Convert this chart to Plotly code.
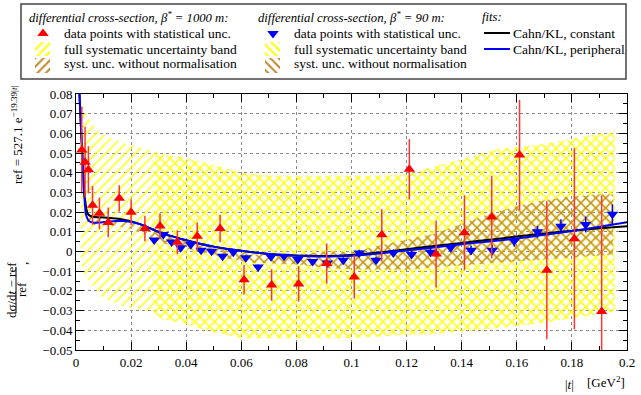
import plotly.graph_objects as go

# ---------------- data ----------------
# beta* = 1000 m data points (red) with statistical uncertainties
t_1000 = [0.0021, 0.0033, 0.0045, 0.0060, 0.0085, 0.0117, 0.0157, 0.0200, 0.0250, 0.0305,
          0.0368, 0.0440, 0.0523, 0.0610, 0.0710, 0.0808, 0.0910, 0.1010, 0.1110, 0.1210,
          0.1307, 0.1410, 0.1509, 0.1610, 0.1709, 0.1809, 0.1908]
y_1000 = [0.0515, 0.0454, 0.0415, 0.0235, 0.0194, 0.0148, 0.0270, 0.0200, 0.0117, 0.0130,
          0.0047, 0.0078, 0.0117, -0.0143, -0.0170, -0.0165, -0.0061, -0.0129, 0.0085, 0.0418,
          -0.0012, 0.0095, 0.0175, 0.0490, -0.0095, 0.0065, -0.0305]
e_1000 = [0.022, 0.018, 0.012, 0.0098, 0.008, 0.0075, 0.0067, 0.0065, 0.0065, 0.0065,
          0.006, 0.007, 0.007, 0.0075, 0.008, 0.009, 0.0102, 0.011, 0.013, 0.0153,
          0.017, 0.019, 0.021, 0.028, 0.035, 0.046, 0.059]

# beta* = 90 m data points (blue)
t_90 = [0.0284, 0.0317, 0.0347, 0.0380, 0.0417, 0.0454, 0.0492, 0.0532, 0.0571, 0.0616,
        0.0661, 0.0708, 0.0755, 0.0805, 0.0859, 0.0912, 0.0970, 0.1028, 0.1089, 0.1152,
        0.1218, 0.1287, 0.1360, 0.1434, 0.1511, 0.1591, 0.1675, 0.1760, 0.1850, 0.1947]
y_90 = [0.0058, 0.0087, 0.0048, 0.0019, 0.0036, 0.0007, 0.0002, -0.0024, -0.0003, -0.0032,
        -0.0078, -0.0027, -0.0024, -0.0041, -0.0051, -0.0058, -0.0044, -0.0007, -0.0044, -0.0007,
        -0.0015, -0.0003, 0.0019, 0.0007, 0.0007, 0.0053, 0.0100, 0.0129, 0.0137, 0.0189]
e_90 = [0.001, 0.001, 0.001, 0.001, 0.001, 0.001, 0.001, 0.001, 0.001, 0.0012,
        0.0012, 0.0012, 0.0012, 0.0013, 0.0013, 0.0014, 0.0015, 0.0016, 0.0017, 0.0018,
        0.002, 0.002, 0.0022, 0.0024, 0.0026, 0.0028, 0.003, 0.0035, 0.004, 0.005]

# full systematic uncertainty bands
band_full_1000_t = [0.0018, 0.0033, 0.0065, 0.009, 0.0138, 0.0174, 0.0234, 0.0283, 0.032, 0.039,
                    0.0486, 0.06, 0.07, 0.08, 0.09, 0.10, 0.108, 0.12, 0.1285, 0.1405,
                    0.1527, 0.165, 0.1769, 0.189, 0.1956]
band_full_1000_hi = [0.0775, 0.071, 0.064, 0.060, 0.057, 0.055, 0.053, 0.0512, 0.0495, 0.0478,
                     0.0445, 0.040, 0.0385, 0.0385, 0.0385, 0.0385, 0.0385, 0.039, 0.0427, 0.047,
                     0.052, 0.0537, 0.0563, 0.0597, 0.0605]
band_full_1000_lo = [-0.006, -0.0126, -0.018, -0.0228, -0.026, -0.0279, -0.0295, -0.0304, -0.0347, -0.0364,
                     -0.0406, -0.044, -0.044, -0.044, -0.044, -0.044, -0.0432, -0.0423, -0.042, -0.0405,
                     -0.039, -0.037, -0.0347, -0.032, -0.0304]

band_full_90_t = [0.028, 0.032, 0.039, 0.0486, 0.06, 0.07, 0.08, 0.09, 0.10, 0.108,
                  0.12, 0.1285, 0.1405, 0.1527, 0.165, 0.1769, 0.189, 0.1956]
band_full_90_hi = [0.0495, 0.049, 0.0478, 0.0445, 0.040, 0.0385, 0.0385, 0.0385, 0.0385, 0.0385,
                   0.039, 0.0427, 0.047, 0.052, 0.0537, 0.0563, 0.0597, 0.0605]
band_full_90_lo = [-0.032, -0.0347, -0.0364, -0.0406, -0.044, -0.044, -0.044, -0.044, -0.044, -0.0432,
                   -0.0423, -0.042, -0.0405, -0.039, -0.037, -0.0347, -0.032, -0.0304]

# systematic uncertainty without normalisation
band_nn_1000_t = [0.0025, 0.003, 0.0035, 0.0045, 0.0065, 0.009, 0.0114, 0.0145, 0.0174, 0.0205,
                  0.0235, 0.028, 0.035, 0.045, 0.055, 0.063, 0.07, 0.081, 0.091, 0.10,
                  0.11, 0.12, 0.13, 0.14, 0.15, 0.16, 0.17, 0.18, 0.19, 0.195]
band_nn_1000_hi = [0.045, 0.035, 0.026, 0.019, 0.0175, 0.0174, 0.0172, 0.0168, 0.0162, 0.0152,
                   0.0138, 0.010, 0.0075, 0.0045, 0.0015, -0.0015, -0.0015, -0.0015, 0.0, -0.0005,
                   0.003, 0.006, 0.009, 0.014, 0.019, 0.023, 0.026, 0.028, 0.029, 0.029]
band_nn_1000_lo = [0.035, 0.024, 0.017, 0.014, 0.0135, 0.0134, 0.0132, 0.0128, 0.0122, 0.0112,
                   0.0098, 0.006, 0.003, 0.0, -0.0035, -0.0056, -0.006, -0.0066, -0.0083, -0.009,
                   -0.0092, -0.0092, -0.008, -0.007, -0.0057, -0.005, -0.004, -0.003, -0.002, -0.0015]

band_nn_90_t = [0.028, 0.035, 0.045, 0.055, 0.063, 0.07, 0.081, 0.091, 0.10, 0.11,
                0.12, 0.13, 0.14, 0.15, 0.16, 0.17, 0.18, 0.19, 0.195]
band_nn_90_hi = [0.010, 0.0075, 0.0045, 0.0015, -0.0015, -0.0015, -0.0015, 0.0, -0.0005, 0.003,
                 0.006, 0.009, 0.014, 0.019, 0.023, 0.026, 0.028, 0.029, 0.029]
band_nn_90_lo = [0.006, 0.003, 0.0, -0.0035, -0.0056, -0.006, -0.0066, -0.0083, -0.009, -0.0092,
                 -0.0092, -0.008, -0.007, -0.0057, -0.005, -0.004, -0.003, -0.002, -0.0015]

# fits
fit_t = [0.0011, 0.0017, 0.0023, 0.0029, 0.0035, 0.0041, 0.0047, 0.0065, 0.009, 0.0114,
         0.0145, 0.0174, 0.0205, 0.0235, 0.027, 0.0307, 0.035, 0.039, 0.045, 0.05,
         0.055, 0.06, 0.065, 0.07, 0.075, 0.08, 0.085, 0.09, 0.095, 0.10,
         0.11, 0.12, 0.13, 0.14, 0.15, 0.16, 0.17, 0.18, 0.19, 0.20]
fit_const = [0.085, 0.066, 0.049, 0.032, 0.024, 0.0197, 0.0185, 0.0175, 0.0174, 0.0172,
             0.0168, 0.0162, 0.0152, 0.0138, 0.0118, 0.0095, 0.0077, 0.0061, 0.0040, 0.0025,
             0.0013, 0.0004, -0.0005, -0.0012, -0.0017, -0.0020, -0.0022, -0.0023, -0.0021, -0.0018,
             -0.0005, 0.0012, 0.0028, 0.0044, 0.0060, 0.0076, 0.0092, 0.0106, 0.0118, 0.0129]
fit_periph = [0.085, 0.066, 0.049, 0.031, 0.0197, 0.0168, 0.0155, 0.0146, 0.0148, 0.0151,
              0.0155, 0.0155, 0.0149, 0.0138, 0.0118, 0.0095, 0.0077, 0.0061, 0.0040, 0.0025,
              0.0013, 0.0004, -0.0005, -0.0012, -0.0018, -0.0022, -0.0024, -0.0025, -0.0024, -0.0021,
              -0.0010, 0.0005, 0.0021, 0.0037, 0.0051, 0.0066, 0.0085, 0.0104, 0.0126, 0.0149]

x_ticks = [0, 0.02, 0.04, 0.06, 0.08, 0.1, 0.12, 0.14, 0.16, 0.18, 0.2]
x_ticktext = ["0", "0.02", "0.04", "0.06", "0.08", "0.1", "0.12", "0.14", "0.16", "0.18", "0.2"]
y_ticks = [-0.05, -0.04, -0.03, -0.02, -0.01, 0, 0.01, 0.02, 0.03, 0.04, 0.05, 0.06, 0.07, 0.08]
y_ticktext = ["\u22120.05", "\u22120.04", "\u22120.03", "\u22120.02", "\u22120.01", "0",
              "0.01", "0.02", "0.03", "0.04", "0.05", "0.06", "0.07", "0.08"]

# ---------------- styling ----------------
W, H = 641, 395
FONT = "Liberation Serif, Times New Roman, serif"
YELLOW = "#ffff00"
BROWN = "#c08a30"
RED = "#ff0000"
BLUE = "#0000ff"


def px(x):
    return x / W


def py(y):
    return 1 - y / H


def band(t, lo, hi, shape, color, xa="x", ya="y", size=7, solidity=0.2):
    return go.Scatter(
        x=list(t) + list(t)[::-1], y=list(hi) + list(lo)[::-1],
        mode="lines", line=dict(width=0, color="rgba(0,0,0,0)"),
        fill="toself", fillcolor="rgba(0,0,0,0)",
        fillpattern=dict(shape=shape, fgcolor=color, bgcolor="rgba(0,0,0,0)",
                         size=size, solidity=solidity, fillmode="replace"),
        xaxis=xa, yaxis=ya, hoverinfo="skip", showlegend=False)


fig = go.Figure()

fig.add_trace(band(band_full_1000_t, band_full_1000_lo, band_full_1000_hi, "/", YELLOW))
fig.add_trace(band(band_full_90_t, band_full_90_lo, band_full_90_hi, "\\", YELLOW))
fig.add_trace(band(band_nn_1000_t, band_nn_1000_lo, band_nn_1000_hi, "/", BROWN))
fig.add_trace(band(band_nn_90_t, band_nn_90_lo, band_nn_90_hi, "\\", BROWN))

fig.add_trace(go.Scatter(x=fit_t, y=fit_const, mode="lines",
                         line=dict(color="black", width=2, shape="spline", smoothing=0.5),
                         showlegend=False))
fig.add_trace(go.Scatter(x=fit_t, y=fit_periph, mode="lines",
                         line=dict(color=BLUE, width=2, shape="spline", smoothing=0.5),
                         showlegend=False))

fig.add_trace(go.Scatter(x=t_90, y=y_90, mode="markers",
                         marker=dict(symbol="triangle-down", size=10, color=BLUE),
                         error_y=dict(type="data", array=e_90, color=BLUE, thickness=1.5, width=0),
                         showlegend=False))
fig.add_trace(go.Scatter(x=t_1000, y=y_1000, mode="markers",
                         marker=dict(symbol="triangle-up", size=10, color=RED),
                         error_y=dict(type="data", array=e_1000, color="#ff3333", thickness=1.5, width=0),
                         showlegend=False))

# ---------------- legend (drawn on an overlay pixel axis) ----------------
fig.add_trace(band([35, 50], [56, 56], [42, 42], "/", YELLOW, "x2", "y2", size=6, solidity=0.35))
fig.add_trace(band([35, 50], [73, 73], [58, 58], "/", BROWN, "x2", "y2", size=6, solidity=0.35))
fig.add_trace(band([265, 280], [56, 56], [42, 42], "\\", YELLOW, "x2", "y2", size=6, solidity=0.35))
fig.add_trace(band([265, 280], [73, 73], [58, 58], "\\", BROWN, "x2", "y2", size=6, solidity=0.35))
fig.add_trace(go.Scatter(x=[43], y=[33.5], mode="markers", xaxis="x2", yaxis="y2",
                         marker=dict(symbol="triangle-up", size=10, color=RED), showlegend=False))
fig.add_trace(go.Scatter(x=[273], y=[33.5], mode="markers", xaxis="x2", yaxis="y2",
                         marker=dict(symbol="triangle-down", size=10, color=BLUE), showlegend=False))
fig.add_trace(go.Scatter(x=[484, 510], y=[33, 33], mode="lines", xaxis="x2", yaxis="y2",
                         line=dict(color="black", width=2), showlegend=False))
fig.add_trace(go.Scatter(x=[484, 510], y=[49, 49], mode="lines", xaxis="x2", yaxis="y2",
                         line=dict(color=BLUE, width=2), showlegend=False))

ann = []
def text(x, y, s, size=13.5, anchor="left", angle=0, yanchor="middle"):
    ann.append(dict(x=px(x), y=py(y), xref="paper", yref="paper", text=s, showarrow=False,
                    xanchor=anchor, yanchor=yanchor, textangle=angle,
                    font=dict(family=FONT, size=size, color="black")))

text(27, 17, "<i>differential cross-section, \u03b2<sup>*</sup> = 1000 m:</i>", size=12.7)
text(62, 33, "data points with statistical unc.")
text(62, 49, "full systematic uncertainty band")
text(62, 64, "syst. unc. without normalisation")
text(256, 17, "<i>differential cross-section, \u03b2<sup>*</sup> = 90 m:</i>", size=12.7)
text(292, 33, "data points with statistical unc.")
text(292, 49, "full systematic uncertainty band")
text(292, 64, "syst. unc. without normalisation")
text(480, 17, "<i>fits:</i>", size=12.7)
text(511, 33, "Cahn/KL, constant")
text(511, 49, "Cahn/KL, peripheral")

# axis titles
text(569, 384, "|<i>t</i>|", anchor="center", size=13)
text(606, 382, "[GeV<sup>2</sup>]", anchor="center", size=13)
text(11, 290, "d\u03c3/d<i>t</i> \u2212 ref", anchor="center", angle=-90, size=13)
text(21, 290, "ref", anchor="center", angle=-90, size=13)
text(22, 264, ",", anchor="center", angle=-90, size=13)
text(17, 135, "ref = 527.1 e<sup>\u221219.39|<i>t</i>|</sup>", anchor="center", angle=-90, size=13)

shapes = [
    dict(type="rect", xref="paper", yref="paper", x0=px(21), x1=px(626), y0=py(4), y1=py(79),
         line=dict(color="#444", width=1.5), fillcolor="rgba(0,0,0,0)", layer="below"),
    dict(type="line", xref="paper", yref="paper", x0=px(16), x1=px(16), y0=py(267), y1=py(313),
         line=dict(color="black", width=1)),
]

axis_common = dict(showline=True, linecolor="black", linewidth=1, mirror="allticks",
                   ticks="inside", ticklen=8, tickcolor="black", tickwidth=1,
                   showgrid=True, gridcolor="#8a8a8a", griddash="dot", gridwidth=1,
                   zeroline=False, automargin=False,
                   tickfont=dict(family=FONT, size=13, color="black"))

fig.update_layout(
    width=W, height=H, autosize=False,
    margin=dict(l=0, r=0, t=0, b=0, pad=0),
    paper_bgcolor="white", plot_bgcolor="rgba(0,0,0,0)",
    showlegend=False,
    xaxis=dict(domain=[px(76), px(627)], range=[0, 0.2], tickvals=x_ticks, ticktext=x_ticktext,
               minor=dict(ticks="inside", ticklen=4, dtick=0.01, tick0=0, tickcolor="black", showgrid=False),
               anchor="y", **axis_common),
    yaxis=dict(domain=[py(350), py(94)], range=[-0.05, 0.08], tickvals=y_ticks, ticktext=y_ticktext,
               minor=dict(ticks="inside", ticklen=4, dtick=0.005, tick0=0, tickcolor="black", showgrid=False),
               anchor="x", **axis_common),
    xaxis2=dict(domain=[0, 1], range=[0, W], visible=False, showticklabels=False,
                anchor="y2", fixedrange=True, automargin=False),
    yaxis2=dict(domain=[0, 1], range=[H, 0], visible=False, showticklabels=False,
                anchor="x2", fixedrange=True, automargin=False),
    annotations=ann, shapes=shapes,
)

fig.write_html("out.html", config={"displayModeBar": False},
               post_script="document.body.style.margin='0px'; document.body.style.overflow='hidden';")
